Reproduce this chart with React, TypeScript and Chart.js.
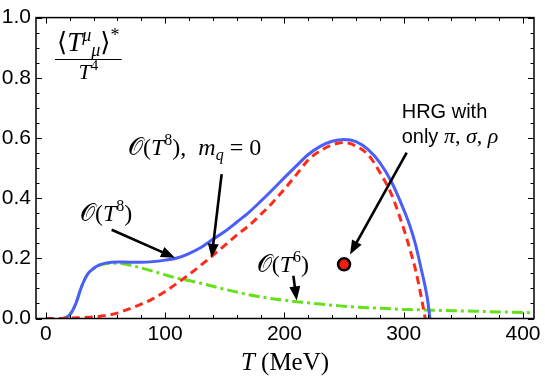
import React, { useEffect, useRef } from 'react';
import { Chart, registerables } from 'chart.js';

Chart.register(...registerables);

// ---- data ----
const T_MEV = [0, 10, 15, 20, 25, 30, 35, 40, 45, 50, 55, 60, 70, 80, 90, 100, 110, 120, 130, 140, 150, 160, 170, 180, 190, 200, 210, 220, 230, 240, 250, 260, 270, 280, 290, 300, 305, 310, 315, 318, 320, 322, 330, 340, 360, 380, 400, 410];
// O(T^8)  (blue, solid)
const O8 = [null, null, 0, 0.012, 0.048, 0.106, 0.147, 0.166, 0.178, 0.184, 0.187, 0.188, 0.187, 0.187, 0.189, 0.194, 0.201, 0.216, 0.236, 0.263, 0.289, 0.32, 0.352, 0.389, 0.428, 0.468, 0.507, 0.545, 0.572, 0.589, 0.595, 0.588, 0.562, 0.518, 0.452, 0.362, 0.31, 0.245, 0.158, 0.106, 0.062, 0, null, null, null, null, null, null];
// O(T^8), m_q = 0  (red, dashed)
const O8_MQ0 = [0, 0, 0.0005, 0.001, 0.002, 0.003, 0.004, 0.005, 0.007, 0.01, 0.013, 0.018, 0.032, 0.048, 0.066, 0.09, 0.117, 0.146, 0.177, 0.21, 0.243, 0.277, 0.308, 0.345, 0.385, 0.43, 0.478, 0.527, 0.557, 0.577, 0.585, 0.573, 0.545, 0.486, 0.41, 0.298, 0.232, 0.16, 0.065, 0, null, null, null, null, null, null, null, null];
// O(T^6)  (green, dash-dot)
const O6 = [null, null, 0, 0.012, 0.048, 0.106, 0.147, 0.166, 0.177, 0.182, 0.184, 0.184, 0.178, 0.168, 0.157, 0.145, 0.134, 0.126, 0.117, 0.107, 0.097, 0.088, 0.079, 0.072, 0.066, 0.061, 0.056, 0.052, 0.048, 0.044, 0.041, 0.038, 0.036, 0.034, 0.032, 0.03, 0.0295, 0.029, 0.0285, 0.028, 0.028, 0.0278, 0.027, 0.026, 0.024, 0.022, 0.02, 0.019];
// HRG with only pi, sigma, rho
const HRG_T = [250];
const HRG_VAL = [0.18];

const X_TICKS = [0, 100, 200, 300, 400];
const Y_TICKS = [0, 0.2, 0.4, 0.6, 0.8, 1.0];
const X_MINOR = 20;
const Y_MINOR = 0.05;
const X_MIN = -8.2;
const X_MAX = 409.2;

const SERIF = '"Liberation Serif", "DejaVu Serif", serif';
const SANS = '"Liberation Sans", Arial, sans-serif';

type Seg = { t: string; f: string; dy?: number; dx?: number };

function rf(size: number) { return `${size}px ${SERIF}`; }
function itf(size: number) { return `italic ${size}px ${SERIF}`; }

function drawRich(ctx: CanvasRenderingContext2D, x: number, y: number, segs: Seg[], align: 'left' | 'center' = 'left') {
  let total = 0;
  const widths = segs.map((s) => {
    ctx.font = s.f;
    const w = ctx.measureText(s.t).width + (s.dx || 0);
    total += w;
    return w;
  });
  let cx = align === 'center' ? x - total / 2 : x;
  ctx.textAlign = 'left';
  ctx.textBaseline = 'alphabetic';
  segs.forEach((s, i) => {
    ctx.font = s.f;
    ctx.fillText(s.t, cx + (s.dx || 0), y + (s.dy || 0));
    cx += widths[i];
  });
  return total;
}

function arrow(ctx: CanvasRenderingContext2D, x1: number, y1: number, x2: number, y2: number) {
  const ang = Math.atan2(y2 - y1, x2 - x1);
  const L = 14, H = 5.5;
  const bx = x2 - L * Math.cos(ang), by = y2 - L * Math.sin(ang);
  ctx.beginPath();
  ctx.moveTo(x1, y1);
  ctx.lineTo(bx + 2 * Math.cos(ang), by + 2 * Math.sin(ang));
  ctx.lineWidth = 2.6;
  ctx.strokeStyle = '#000';
  ctx.stroke();
  ctx.beginPath();
  ctx.moveTo(x2, y2);
  ctx.lineTo(bx + H * Math.sin(ang), by - H * Math.cos(ang));
  ctx.lineTo(bx - H * Math.sin(ang), by + H * Math.cos(ang));
  ctx.closePath();
  ctx.fillStyle = '#000';
  ctx.fill();
}

const decorPlugin = {
  id: 'decor',
  afterDatasetsDraw(chart: any) {
    const { ctx, chartArea: a, scales } = chart;
    const xs = scales.x, ys = scales.y;
    const X = (v: number) => xs.getPixelForValue(v);
    const Y = (v: number) => ys.getPixelForValue(v);
    ctx.save();
    // inward ticks on all four sides
    ctx.strokeStyle = '#000';
    ctx.lineWidth = 1;
    for (let v = 0; v <= X_TICKS[X_TICKS.length - 1] + 1e-6; v += X_MINOR) {
      const px = Math.round(X(v)) + 0.5;
      const major = X_TICKS.some((t) => Math.abs(t - v) < 1e-6);
      const L = major ? 6 : 3.5;
      ctx.beginPath();
      ctx.moveTo(px, a.bottom); ctx.lineTo(px, a.bottom - L);
      ctx.moveTo(px, a.top); ctx.lineTo(px, a.top + L);
      ctx.stroke();
    }
    for (let v = 0; v <= 1 + 1e-6; v += Y_MINOR) {
      const py = Math.round(Y(v)) + 0.5;
      const major = Y_TICKS.some((t) => Math.abs(t - v) < 1e-6);
      const L = major ? 6 : 3.5;
      ctx.beginPath();
      ctx.moveTo(a.left, py); ctx.lineTo(a.left + L, py);
      ctx.moveTo(a.right, py); ctx.lineTo(a.right - L, py);
      ctx.stroke();
    }
    // frame
    ctx.lineWidth = 1.5;
    ctx.strokeRect(a.left, a.top, a.right - a.left, a.bottom - a.top);

    ctx.fillStyle = '#000';
    // y-axis label (fraction)
    const fx = X(35.6);
    drawRich(ctx, fx, Y(0.889), [
      { t: '⟨', f: rf(26) },
      { t: 'T', f: itf(27) },
      { t: 'μ', f: itf(18), dy: -10 },
      { t: 'μ', f: itf(18), dy: 5 },
      { t: '⟩', f: rf(26) },
      { t: '*', f: rf(18), dy: -10 },
    ], 'center');
    ctx.beginPath();
    ctx.lineWidth = 1;
    ctx.moveTo(X(7.7), Math.round(Y(0.862)) + 0.5);
    ctx.lineTo(X(63.6), Math.round(Y(0.862)) + 0.5);
    ctx.stroke();
    drawRich(ctx, fx, Y(0.796), [
      { t: 'T', f: itf(22) },
      { t: '4', f: rf(15), dy: -9 },
    ], 'center');

    // curve labels
    drawRich(ctx, X(68.9), Y(0.545), [
      { t: '𝒪', f: rf(24) },
      { t: '(', f: rf(24) },
      { t: 'T', f: itf(24) },
      { t: '8', f: rf(16), dy: -10 },
      { t: '),', f: rf(24) },
      { t: '  ', f: rf(24) },
      { t: 'm', f: itf(24) },
      { t: 'q', f: itf(16), dy: 5 },
      { t: ' = 0', f: rf(24) },
    ]);
    drawRich(ctx, X(28.7), Y(0.325), [
      { t: '𝒪', f: rf(24) },
      { t: '(', f: rf(24) },
      { t: 'T', f: itf(24) },
      { t: '8', f: rf(16), dy: -10 },
      { t: ')', f: rf(24) },
    ]);
    drawRich(ctx, X(176.8), Y(0.156), [
      { t: '𝒪', f: rf(24) },
      { t: '(', f: rf(24) },
      { t: 'T', f: itf(24) },
      { t: '6', f: rf(16), dy: -10 },
      { t: ')', f: rf(24) },
    ]);
    drawRich(ctx, X(298.3), Y(0.665), [{ t: 'HRG with', f: `20px ${SANS}` }]);
    drawRich(ctx, X(298.3), Y(0.584), [
      { t: 'only ', f: `20px ${SANS}` },
      { t: 'π', f: itf(22) },
      { t: ', ', f: rf(22) },
      { t: 'σ', f: itf(22) },
      { t: ', ', f: rf(22) },
      { t: 'ρ', f: itf(22) },
    ]);

    // arrows
    arrow(ctx, X(55.2), Y(0.295), X(108.3), Y(0.202));
    arrow(ctx, X(147.4), Y(0.48), X(139), Y(0.202));
    arrow(ctx, X(207.5), Y(0.142), X(210.3), Y(0.06));
    arrow(ctx, X(302.5), Y(0.551), X(255), Y(0.213));

    // x-axis title
    drawRich(ctx, (a.left + a.right) / 2, 370, [
      { t: 'T', f: itf(25) },
      { t: ' (MeV)', f: rf(25) },
    ], 'center');
    ctx.restore();
  },
};

function pts(ys: (number | null)[]) {
  return T_MEV.map((t, i) => ({ x: t, y: ys[i] }));
}

export default function App() {
  const ref = useRef<HTMLCanvasElement | null>(null);
  useEffect(() => {
    if (!ref.current) return;
    const chart = new Chart(ref.current, {
      type: 'line',
      data: {
        datasets: [
          {
            label: 'HRG',
            data: HRG_T.map((t, i) => ({ x: t, y: HRG_VAL[i] })),
            showLine: false,
            pointRadius: 6,
            pointBackgroundColor: '#f41c0c',
            pointBorderColor: '#000',
            pointBorderWidth: 2.5,
            order: 0,
          },
          {
            label: 'O(T^8), m_q=0',
            data: pts(O8_MQ0),
            borderColor: '#ff2a1a',
            borderWidth: 3,
            borderDash: [8, 5],
            pointRadius: 0,
            cubicInterpolationMode: 'monotone',
            order: 1,
          },
          {
            label: 'O(T^8)',
            data: pts(O8),
            borderColor: '#4a5ef8',
            borderWidth: 3,
            pointRadius: 0,
            cubicInterpolationMode: 'monotone',
            order: 2,
          },
          {
            label: 'O(T^6)',
            data: pts(O6),
            borderColor: '#66e01c',
            borderWidth: 3,
            borderDash: [11, 4, 3, 4],
            pointRadius: 0,
            cubicInterpolationMode: 'monotone',
            order: 3,
          },
        ] as any,
      },
      options: {
        animation: false,
        responsive: false,
        maintainAspectRatio: false,
        spanGaps: false,
        layout: { padding: { top: 12.7, right: 11, left: 0, bottom: 0 } },
        plugins: { legend: { display: false }, tooltip: { enabled: false }, title: { display: false } },
        scales: {
          x: {
            type: 'linear',
            min: X_MIN,
            max: X_MAX,
            grid: { display: false, drawTicks: false },
            border: { display: false },
            afterBuildTicks: (s: any) => { s.ticks = X_TICKS.map((v) => ({ value: v })); },
            afterFit: (s: any) => { s.height = 59.5; },
            ticks: { padding: 3, color: '#000', font: { family: SANS, size: 21 }, callback: (v: any) => String(v) },
          },
          y: {
            type: 'linear',
            min: 0,
            max: 1,
            grid: { display: false, drawTicks: false },
            border: { display: false },
            afterBuildTicks: (s: any) => { s.ticks = Y_TICKS.map((v) => ({ value: v })); },
            afterFit: (s: any) => { s.width = 36; },
            ticks: { padding: 5, color: '#000', font: { family: SANS, size: 21 }, callback: (v: any) => Number(v).toFixed(1) },
          },
        },
      } as any,
      plugins: [decorPlugin],
    });
    return () => chart.destroy();
  }, []);
  return (
    <div style={{ position: 'fixed', left: 0, top: 0, width: 545, height: 378, background: '#fff' }}>
      <canvas ref={ref} width={545} height={378} style={{ display: 'block' }} />
    </div>
  );
}
